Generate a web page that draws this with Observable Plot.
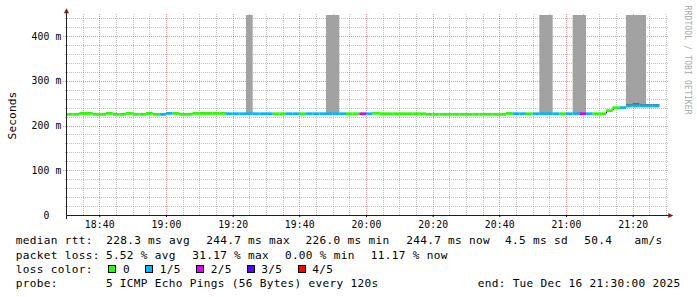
<!DOCTYPE html>
<html>
<head>
<meta charset="utf-8">
<script src="https://cdn.jsdelivr.net/npm/d3@7"></script>
<script src="https://cdn.jsdelivr.net/npm/@observablehq/plot@0.6"></script>
<style>
  html, body { margin: 0; padding: 0; background: #fff; }
  #chart { position: relative; width: 697px; height: 297px; overflow: hidden; background: #fff; }
  #chart svg { display: block; }
  .legend text { font-family: "DejaVu Sans Mono", monospace; font-size: 11.1px; letter-spacing: 0.31px; fill: #000; }
</style>
</head>
<body>
<div id="chart"></div>
<script>
// ---------------- data ----------------
const stepTimes = [
  "18:30","18:32","18:34","18:36","18:38","18:40","18:42","18:44","18:46","18:48",
  "18:50","18:52","18:54","18:56","18:58","19:00","19:02","19:04","19:06","19:08",
  "19:10","19:12","19:14","19:16","19:18","19:20","19:22","19:24","19:26","19:28",
  "19:30","19:32","19:34","19:36","19:38","19:40","19:42","19:44","19:46","19:48",
  "19:50","19:52","19:54","19:56","19:58","20:00","20:02","20:04","20:06","20:08",
  "20:10","20:12","20:14","20:16","20:18","20:20","20:22","20:24","20:26","20:28",
  "20:30","20:32","20:34","20:36","20:38","20:40","20:42","20:44","20:46","20:48",
  "20:50","20:52","20:54","20:56","20:58","21:00","21:02","21:04","21:06","21:08",
  "21:10","21:12","21:14","21:16","21:18","21:20","21:22","21:24","21:26"
];
// median rtt per step, milliseconds
const medianMs = [
  226.0,226.0,228.2,228.2,226.0,226.0,228.2,226.0,226.0,228.2,
  226.0,226.0,228.2,226.0,226.0,228.2,228.2,226.0,226.0,228.2,
  228.2,228.2,228.2,228.2,227.4,227.4,227.4,227.4,227.4,227.4,
  227.4,227.4,227.4,227.4,227.4,227.4,227.4,227.4,227.4,227.4,
  227.4,227.4,227.4,227.4,227.4,227.4,228.4,227.4,227.4,227.4,
  227.4,227.4,227.4,227.4,226.0,226.0,226.0,226.0,226.0,226.0,
  226.0,226.0,226.0,226.0,226.0,226.0,228.0,227.4,227.4,227.4,
  227.4,227.4,227.4,227.4,227.4,227.4,227.4,227.4,227.4,227.4,
  227.4,234.2,240.9,240.9,244.7,244.7,244.7,244.7,244.7
];
// lost pings out of 5 per step
const lossLevel = [
  0,0,0,0,0,0,0,0,0,0,
  0,0,0,0,1,1,0,0,0,0,
  0,0,0,0,1,1,1,1,1,1,
  1,0,0,1,1,0,1,1,1,1,
  1,1,0,0,2,1,0,0,0,0,
  0,0,0,0,0,0,0,0,0,0,
  0,0,0,0,0,0,0,1,1,0,
  1,1,1,1,0,1,1,2,1,0,
  0,0,0,1,1,1,1,1,1
];
const lossColors = ["#26ff00", "#00b8ff", "#dd00ff", "#5e00ff", "#ff0000"];
const lossLabels = ["0", "1/5", "2/5", "3/5", "4/5"];

// tall smoke (off-scale) columns
const smokeStart = ["19:24", "19:48", "20:52", "21:02", "21:18"];
const smokeEnd   = ["19:26", "19:52", "20:56", "21:06", "21:24"];
const smokeLowMs = [227.4, 227.4, 227.4, 227.4, 244.7];
const smokeHighMs = [500, 500, 500, 500, 500];
// dark smoke around the last median steps
const darkSmokeStart = ["21:18", "21:20", "21:22", "21:24", "21:26"];
const darkSmokeLowMs = [244.0, 244.0, 244.0, 244.0, 241.3];
const darkSmokeHighMs = [248.0, 250.2, 248.0, 248.0, 248.0];

const majorXTicks = ["18:40","19:00","19:20","19:40","20:00","20:20","20:40","21:00","21:20"];
const yTickValues = [0, 0.1, 0.2, 0.3, 0.4];

const rttSummary = ["median rtt:", "228.3 ms avg", "244.7 ms max", "226.0 ms min", "244.7 ms now", "4.5 ms sd", "50.4", "am/s"];
const lossSummary = ["packet loss:", "5.52 % avg", "31.17 % max", "0.00 % min", "11.17 % now"];
const lossColorTitle = "loss color:";
const probeLine = ["probe:", "5 ICMP Echo Pings (56 Bytes) every 120s", "end: Tue Dec 16 21:30:00 2025"];
const yTitle = "Seconds";
const sideText = "RRDTOOL / TOBI OETIKER";

// ---------------- helpers ----------------
const T = s => { const [h, m] = s.split(":").map(Number); return new Date(Date.UTC(2025, 11, 16, h, m)); };
const addMin = (d, m) => new Date(+d + m * 60000);
const probeStepMin = 2;
const t0 = T("18:30"), t1 = T("21:30");
const xRange = [66, 666], yRange = [215, 15];
const yMax = 0.44693;      // top of graph area

// snap grid positions to whole pixels (as rrdtool does), using the same linear scales
const xs = d3.scaleUtc([t0, t1], xRange), ys = d3.scaleLinear([0, yMax], yRange);
const snapX = d => xs.invert(Math.round(xs(d)));
const snapY = v => ys.invert(Math.round(ys(v)));
// grid extents aligned to pixel edges so 1px dashes are crisp (Plot adds a 0.5px offset)
const gridY1 = ys.invert(214.5), gridY2 = ys.invert(12.5);
const minorX1 = xs.invert(64.5), majorX1 = xs.invert(62.5), gridX2 = xs.invert(667.5);

const steps = stepTimes.map((s, i) => ({
  start: T(s), end: addMin(T(s), probeStepMin),
  rtt: medianMs[i] / 1000,
  prev: (i ? medianMs[i - 1] : medianMs[i]) / 1000,
  loss: lossLevel[i]
}));
const smoke = smokeStart.map((s, i) => ({start: T(s), end: T(smokeEnd[i]), lo: smokeLowMs[i] / 1000, hi: smokeHighMs[i] / 1000}));
const darkSmoke = darkSmokeStart.map((s, i) => ({start: T(s), end: addMin(T(s), probeStepMin), lo: darkSmokeLowMs[i] / 1000, hi: darkSmokeHighMs[i] / 1000}));

const majorX = majorXTicks.map(T);
const minorX = d3.utcMinute.every(5).range(addMin(t0, 1), addMin(t1, 1)).filter(d => d.getUTCMinutes() % 20 !== 0);
const majorY = yTickValues.filter(v => v > 0);
const minorY = d3.range(20, 441, 20).filter(v => v % 100 !== 0).map(v => v / 1000);

const arrowUp = {draw(c) { c.moveTo(-2.6, 2.5); c.lineTo(0, -2.5); c.lineTo(2.6, 2.5); c.closePath(); }};
const arrowRight = {draw(c) { c.moveTo(-2.5, -2.4); c.lineTo(2.5, 0); c.lineTo(-2.5, 2.4); c.closePath(); }};

const minorStroke = {stroke: "#8c8c8c", strokeOpacity: 0.55, strokeDasharray: "1,1", shapeRendering: "crispEdges"};
const majorStroke = {stroke: "#d04040", strokeOpacity: 0.55, strokeDasharray: "1,1", shapeRendering: "crispEdges"};

const plot = Plot.plot({
  width: 697, height: 232,
  marginLeft: 66, marginRight: 31, marginTop: 15, marginBottom: 17,
  x: {type: "utc", domain: [t0, t1], range: xRange},
  y: {domain: [0, yMax], range: yRange},
  style: {fontFamily: "'DejaVu Sans Mono', monospace", fontSize: "9.72px", letterSpacing: "0.15px", background: "#fff", color: "#000", overflow: "visible"},
  marks: [
    // grid
    Plot.ruleY(minorY.map(snapY), {x1: minorX1, x2: gridX2, ...minorStroke}),
    Plot.ruleX(minorX.map(snapX), {y1: gridY1, y2: gridY2, ...minorStroke}),
    Plot.ruleY(majorY.map(snapY), {x1: majorX1, x2: gridX2, ...majorStroke}),
    Plot.ruleX(majorX.map(snapX), {y1: gridY1, y2: gridY2, ...majorStroke}),
    // smoke
    Plot.rect(smoke, {x1: "start", x2: "end", y1: "lo", y2: "hi", fill: "#a2a2a2", clip: true}),
    Plot.rect(darkSmoke, {x1: "start", x2: "end", y1: "lo", y2: "hi", fill: "#6a6a6a", clip: true}),
    // median connectors and loss-coloured median
    Plot.ruleX(steps.slice(1), {x: "start", y1: "prev", y2: "rtt", stroke: "#000", strokeWidth: 1}),
    Plot.ruleY(steps, {y: "rtt", x1: "start", x2: "end", stroke: d => lossColors[d.loss], strokeWidth: 2.8}),
    // axis lines and arrows
    Plot.ruleY([0], {x1: t0, x2: addMin(t1, 1.4), stroke: "#1f1f1f"}),
    Plot.ruleX([t0], {y1: -0.009, y2: gridY2, stroke: "#1f1f1f"}),
    Plot.dot([0], {x: () => t0, y: () => 0.4574, symbol: arrowUp, fill: "#7f1f1f", stroke: null}),
    Plot.dot([0], {x: () => addMin(t1, 1.29), y: () => 0, symbol: arrowRight, fill: "#7f1f1f", stroke: null}),
    // axes
    Plot.axisX({ticks: majorX, tickFormat: d3.utcFormat("%H:%M"), tickSize: 2, tickPadding: 4, label: null}),
    Plot.axisY({ticks: yTickValues, tickFormat: d => d === 0 ? "0\u00a0\u00a0" : `${Math.round(d * 1000)} m`, tickSize: 0, tickPadding: 5, label: null}),
    // titles
    Plot.text([yTitle], {frameAnchor: "left", dx: -54.5, rotate: -90, textAnchor: "middle", lineAnchor: "middle", fontSize: 11.1, fill: "#000"}),
    Plot.text([sideText], {frameAnchor: "top-right", dx: 21.4, dy: -10, rotate: 90, textAnchor: "start", lineAnchor: "middle", fontSize: 8, fill: "#a8a8a8"})
  ]
});

const chart = document.getElementById("chart");
chart.appendChild(plot);

// ---------------- legend (below the svg) ----------------
const lg = d3.create("svg").attr("class", "legend").attr("width", 697).attr("height", 65);
const rttX = [15.8, 106.2, 206.2, 305.6, 406.2, 505.1, 584.3, 634.6];
const lossX = [15.8, 105.9, 192.2, 284.9, 370.8];
const boxX = [108.5, 145.5, 196.5, 247.5, 298.5];
const boxLabelX = [123, 159.7, 210.7, 261.3, 312.3];
const probeX = [15.8, 105.9, 477.7];
const base = [12.4, 26.6, 40.7, 54.8];

rttSummary.forEach((s, i) => lg.append("text").attr("x", rttX[i]).attr("y", base[0]).text(s));
lossSummary.forEach((s, i) => lg.append("text").attr("x", lossX[i]).attr("y", base[1]).text(s));
lg.append("text").attr("x", 15.8).attr("y", base[2]).text(lossColorTitle);
lossLabels.forEach((s, i) => {
  lg.append("rect").attr("x", boxX[i]).attr("y", base[2] - 7.2).attr("width", 7).attr("height", 7)
    .attr("fill", lossColors[i]).attr("stroke", "#000").attr("stroke-width", 1);
  lg.append("text").attr("x", boxLabelX[i]).attr("y", base[2]).text(s);
});
probeLine.forEach((s, i) => lg.append("text").attr("x", probeX[i]).attr("y", base[3]).text(s));
chart.appendChild(lg.node());
</script>
</body>
</html>
